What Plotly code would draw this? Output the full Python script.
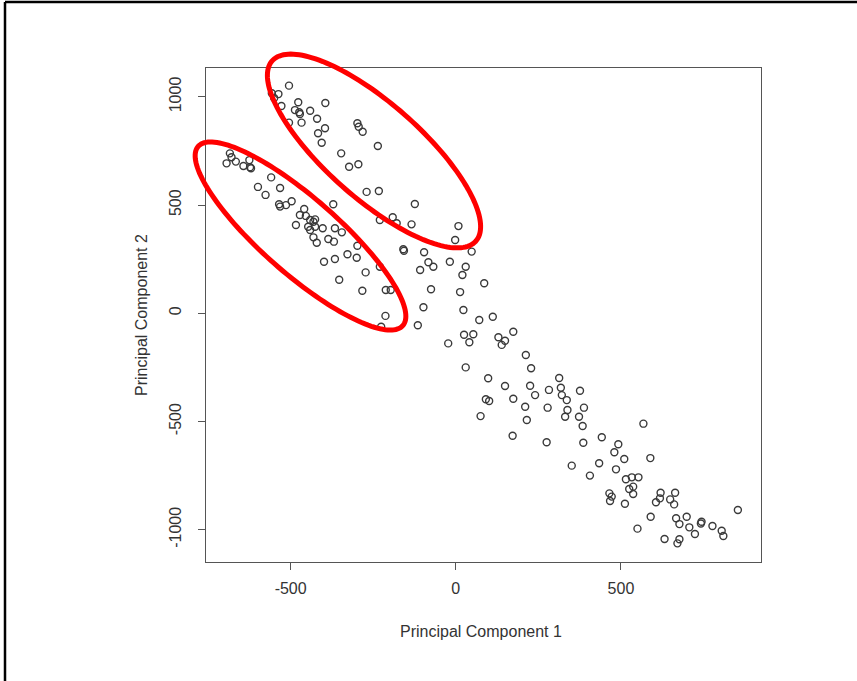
import numpy as np
import plotly.graph_objects as go

# ---- data (Principal Component 1 / 2) ----
pc1 = [-505, -557, -537, -550, -477, -395, -528, -487, -474, -472, -441, -467, -420, -505,
       -396, -417, -406, -298, -294, -282, -236, -347, -323, -295, -270, -233, -371, -230,
       -191, -179, -124, -134, 8, -2,
       -684, -679, -694, -666, -643, -625, -623, -620, -559, -599, -576, -532, -535, -532,
       -514, -497, -459, -472, -454, -441, -431, -426, -484, -403, -366, -447, -441, -426,
       -345, -431, -421, -386, -369, -298, -399, -366, -328, -300, -273, -353, -283, -212,
       -197, -230, -213, -226,
       -159, -157, -96, 48, -83, -68, -108, -18, 30, 20, 86, -75, 13, -98, 23, -115, 71, 112,
       25, 53, 41, -23, 129, 149, 139, 174, 212, 228, 30, 98, 149, 225, 313, 318, 321, 336,
       282, 240, 91, 101, 174, 210, 278, 338, 331, 75, 215, 172, 275, 351,
       376, 388, 373, 384, 386, 568, 442, 492, 480, 510, 434, 485, 406, 589, 515, 533, 553,
       537, 525, 537, 465, 472, 467, 512, 620, 618, 606, 664, 649, 661, 590, 667, 677, 699,
       707, 724, 744, 742, 777, 805, 810, 854, 550, 632, 677, 671]
pc2 = [1052, 1017, 1013, 995, 975, 972, 958, 939, 929, 921, 936, 881, 899, 881,
       855, 832, 788, 878, 862, 839, 773, 739, 677, 689, 561, 565, 504, 431,
       444, 416, 505, 411, 403, 339,
       739, 721, 693, 701, 681, 708, 675, 670, 628, 584, 547, 579, 504, 493,
       500, 518, 482, 454, 450, 431, 423, 434, 408, 393, 393, 400, 385, 400,
       374, 351, 326, 343, 331, 312, 238, 251, 273, 257, 189, 155, 104, 108,
       108, 215, -12, -62,
       296, 289, 282, 285, 236, 215, 200, 238, 215, 177, 139, 111, 98, 28, 15, -55, -31, -16,
       -99, -97, -134, -139, -111, -127, -146, -85, -193, -254, -250, -300, -336, -335, -299, -344, -378, -401,
       -354, -378, -397, -405, -395, -432, -436, -447, -478, -475, -493, -566, -596, -704,
       -358, -436, -478, -521, -598, -510, -573, -605, -642, -673, -693, -721, -750, -669, -767, -758, -758,
       -801, -812, -835, -832, -847, -867, -880, -829, -855, -873, -829, -860, -883, -940, -947, -974, -940,
       -989, -1020, -963, -971, -983, -1005, -1029, -909, -995, -1043, -1044, -1063]

x_ticks = [-500, 0, 500]
x_tick_labels = ["-500", "0", "500"]
y_ticks = [-1000, -500, 0, 500, 1000]
y_tick_labels = ["-1000", "-500", "0", "500", "1000"]
x_title = "Principal Component 1"
y_title = "Principal Component 2"

# ---- layout geometry (pixels) ----
W, H = 857, 681
L, R, T, B = 206, 96, 68, 119
PW, PH = W - L - R, H - T - B


def to_paper(px, py):
    return (px - L) / PW, (H - B - py) / PH


def ellipse_path(cx, cy, a, b, deg, n=160):
    t = np.linspace(0, 2 * np.pi, n)
    th = np.deg2rad(deg)
    ex = cx + a * np.cos(t) * np.cos(th) - b * np.sin(t) * np.sin(th)
    ey = cy + a * np.cos(t) * np.sin(th) + b * np.sin(t) * np.cos(th)
    pts = [to_paper(x, y) for x, y in zip(ex, ey)]
    return "M " + " L ".join(f"{x:.5f},{y:.5f}" for x, y in pts) + " Z"


font_family = "Liberation Sans, Arial, Helvetica, sans-serif"
text_color = "#333333"

fig = go.Figure()
fig.add_trace(go.Scatter(
    x=pc1, y=pc2, mode="markers",
    marker=dict(symbol="circle-open", size=7, color="#3a3a3a",
                line=dict(width=1.4, color="#3a3a3a")),
    showlegend=False, hoverinfo="skip"))

axis_common = dict(showgrid=False, zeroline=False, showline=True, mirror=True,
                   linecolor="#555555", linewidth=1.3, ticks="outside", ticklen=7,
                   tickwidth=1.2, tickcolor="#555555",
                   tickfont=dict(family=font_family, size=16, color=text_color))

shapes = []
# image frame (top and left edges)
x0, y0 = to_paper(5, 2)
x1, y1 = to_paper(W, H)
shapes.append(dict(type="line", xref="paper", yref="paper", x0=x0, y0=y0, x1=x1, y1=y0,
                   line=dict(color="black", width=2.5)))
shapes.append(dict(type="line", xref="paper", yref="paper", x0=x0, y0=y0, x1=x0, y1=y1,
                   line=dict(color="black", width=2.5)))
# red highlight ellipses
shapes.append(dict(type="path", xref="paper", yref="paper", layer="above",
                   path=ellipse_path(374, 151, 136, 47.5, 41.5),
                   line=dict(color="#ff0000", width=5)))
shapes.append(dict(type="path", xref="paper", yref="paper", layer="above",
                   path=ellipse_path(300.5, 236, 136, 38, 41.2),
                   line=dict(color="#ff0000", width=5)))

xt, yt = to_paper(481, 631)
xy, yy = to_paper(141, 315)
annotations = [
    dict(text=x_title, xref="paper", yref="paper", x=xt, y=yt, showarrow=False,
         xanchor="center", yanchor="middle",
         font=dict(family=font_family, size=16, color=text_color)),
    dict(text=y_title, xref="paper", yref="paper", x=xy, y=yy, showarrow=False,
         textangle=-90, xanchor="center", yanchor="middle",
         font=dict(family=font_family, size=16, color=text_color)),
]

fig.update_layout(
    width=W, height=H,
    margin=dict(l=L, r=R, t=T, b=B, pad=0),
    paper_bgcolor="white", plot_bgcolor="white",
    xaxis=dict(range=[-756.3, 924], tickvals=x_ticks, ticktext=x_tick_labels,
               ticklabelstandoff=5, **axis_common),
    yaxis=dict(range=[-1149.2, 1133.5], tickvals=y_ticks, ticktext=y_tick_labels,
               tickangle=-90, ticklabelstandoff=10, **axis_common),
    shapes=shapes, annotations=annotations,
)

fig.write_html("out.html", config={"displayModeBar": False},
               post_script="document.body.style.margin='0px';document.body.style.overflow='hidden';")
